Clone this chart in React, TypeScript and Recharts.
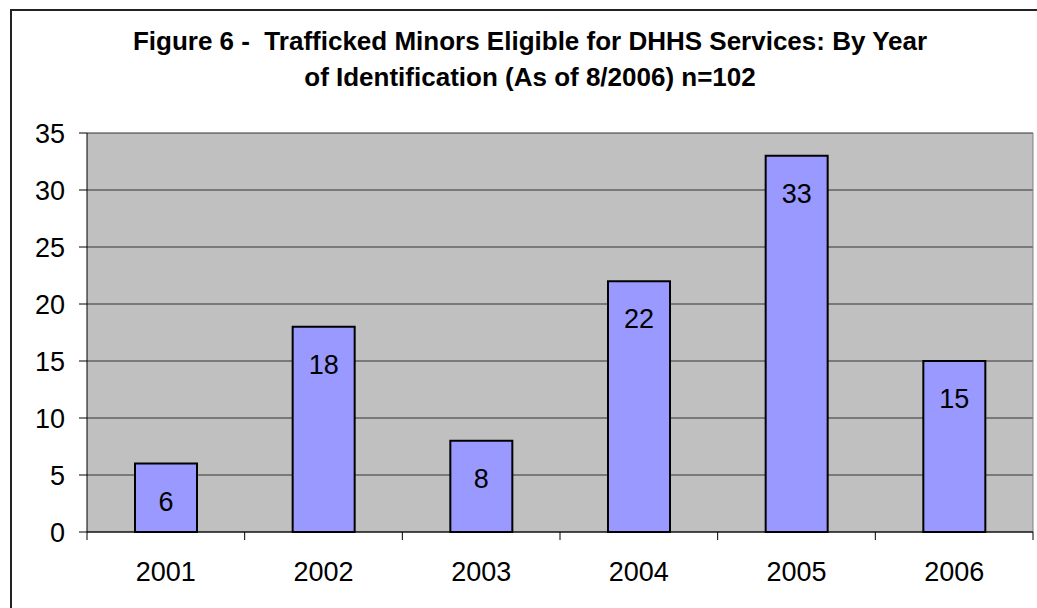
import { BarChart, Bar, XAxis, YAxis, CartesianGrid, LabelList } from "recharts"

const years = ["2001", "2002", "2003", "2004", "2005", "2006"]
const minors = [6, 18, 8, 22, 33, 15]
const yTicks = [0, 5, 10, 15, 20, 25, 30, 35]
const titleLines = [
  "Figure 6 -  Trafficked Minors Eligible for DHHS Services: By Year",
  "of Identification (As of 8/2006) n=102",
]

const data = years.map((year, i) => ({ year, minors: minors[i] }))

const font = "'Liberation Sans', Arial, sans-serif"

// Excel style category axis: tick marks sit between categories, label in the middle
function YearTick(props: any) {
  const { x, y, payload, index, visibleTicksCount, width } = props
  const half =
    payload && typeof payload.offset === "number" && payload.offset > 0
      ? payload.offset
      : width / visibleTicksCount / 2
  const top = y - 30
  return (
    <g>
      <line x1={x - half} x2={x - half} y1={top} y2={top + 8} stroke="#000" />
      {index === visibleTicksCount - 1 && (
        <line x1={x + half} x2={x + half} y1={top} y2={top + 8} stroke="#000" />
      )}
      <text x={x} y={y} dy="0.71em" textAnchor="middle" fontSize={27} fill="#000" fontFamily={font}>
        {payload.value}
      </text>
    </g>
  )
}

export default function App() {
  return (
    <div
      style={{
        position: "absolute",
        left: 0,
        top: 0,
        width: 1037,
        height: 608,
        overflow: "hidden",
        background: "#fff",
        fontFamily: font,
      }}
    >
      <div style={{ position: "absolute", left: 0, top: 0 }}>
        <BarChart
          width={1037}
          height={608}
          data={data}
          margin={{ top: 133, right: 4, left: 11, bottom: 26 }}
          style={{ fontFamily: font }}
        >
          <CartesianGrid fill="#C0C0C0" stroke="#333" vertical={false} />
          <CartesianGrid
            stroke="#808080"
            horizontal={false}
            verticalCoordinatesGenerator={({ offset }: any) => [offset.left + offset.width]}
          />
          <XAxis
            dataKey="year"
            tickLine={false}
            tickSize={8}
            tickMargin={22}
            height={50}
            axisLine={{ stroke: "#000", strokeWidth: 1 }}
            tick={<YearTick />}
            interval={0}
          />
          <YAxis
            domain={[0, 35]}
            ticks={yTicks}
            width={76}
            tickSize={8}
            tickMargin={14}
            tickLine={{ stroke: "#000" }}
            axisLine={{ stroke: "#000", strokeWidth: 1 }}
            tick={{ fontSize: 27, fill: "#000", fontFamily: font }}
            interval={0}
          />
          <Bar dataKey="minors" fill="#9999FF" stroke="#000" strokeWidth={2} barSize={62} isAnimationActive={false}>
            <LabelList dataKey="minors" position="insideTop" offset={28} fontSize={27} fill="#000" fontFamily={font} />
          </Bar>
        </BarChart>
      </div>
      <div
        style={{
          position: "absolute",
          left: 11,
          top: 23,
          width: 1038,
          textAlign: "center",
          fontWeight: "bold",
          fontSize: 26,
          lineHeight: "36px",
          whiteSpace: "pre",
          color: "#000",
        }}
      >
        {titleLines.map((line) => (
          <div key={line}>{line}</div>
        ))}
      </div>
      <div
        style={{
          position: "absolute",
          left: 10,
          top: 9,
          width: 1080,
          height: 700,
          border: "2px solid #222",
          pointerEvents: "none",
        }}
      />
    </div>
  )
}
